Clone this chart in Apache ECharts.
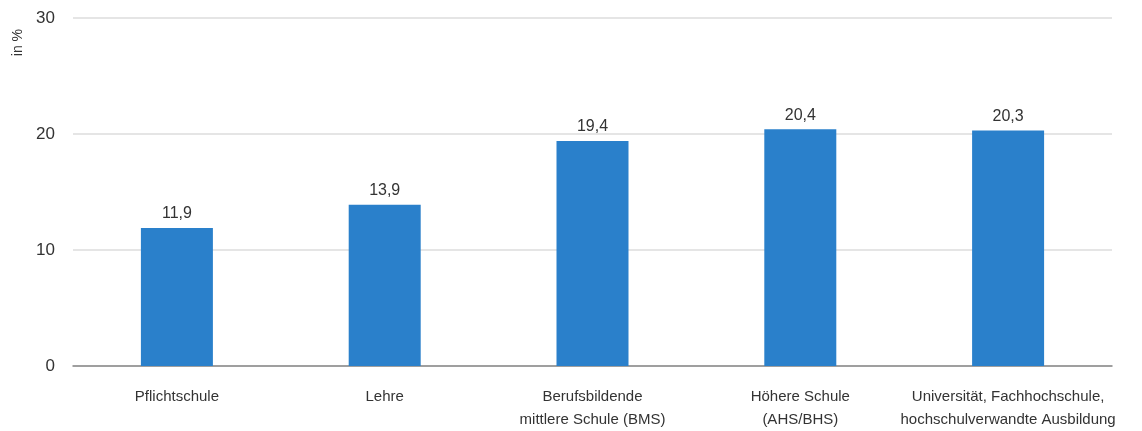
<!DOCTYPE html>
<html><head><meta charset="utf-8">
<script src="https://cdn.jsdelivr.net/npm/echarts@6/dist/echarts.min.js"></script>
<style>html,body{margin:0;padding:0;background:#fff}#c{width:1142px;height:431px}</style>
</head><body><div id="c"></div>
<script>
const categories = ["Pflichtschule", "Lehre", "Berufsbildende\nmittlere Schule (BMS)", "Höhere Schule\n(AHS/BHS)", "Universität, Fachhochschule,\nhochschulverwandte Ausbildung"];
const values = [11.9, 13.9, 19.4, 20.4, 20.3];
const yTicks = [0, 10, 20, 30];
const chart = echarts.init(document.getElementById('c'));
chart.setOption({
  animation: false,
  grid: {left: 73, right: 30, top: 18, bottom: 65},
  graphic: [{type: 'text', left: 11, top: 29, rotation: Math.PI/2,
    style: {text: 'in %', font: '14px "Liberation Sans", Arial, sans-serif', fill: '#333'}}],
  xAxis: {type: 'category', data: categories,
    axisLine: {lineStyle: {color: '#888', width: 1.5}},
    axisTick: {alignWithLabel: true, length: 5, lineStyle: {color: '#aaa'}},
    axisLabel: {color: '#333', fontSize: 15, fontFamily: '"Liberation Sans", Arial, sans-serif', margin: 19, lineHeight: 23, interval: 0}},
  yAxis: {type: 'value', min: yTicks[0], max: yTicks[yTicks.length-1], interval: 10,
    axisLine: {show: false}, axisTick: {show: false},
    axisLabel: {color: '#333', fontSize: 17, fontFamily: '"Liberation Sans", Arial, sans-serif', margin: 18},
    splitLine: {lineStyle: {color: '#dcdcdc', width: 1.5}}},
  series: [{type: 'bar', data: values, barWidth: 72,
    itemStyle: {color: '#2a80cb'},
    label: {show: true, position: 'top', distance: 6, color: '#333', fontSize: 16,
      fontFamily: '"Liberation Sans", Arial, sans-serif',
      formatter: p => p.value.toFixed(1).replace('.', ',')}}]
});
</script></body></html>
